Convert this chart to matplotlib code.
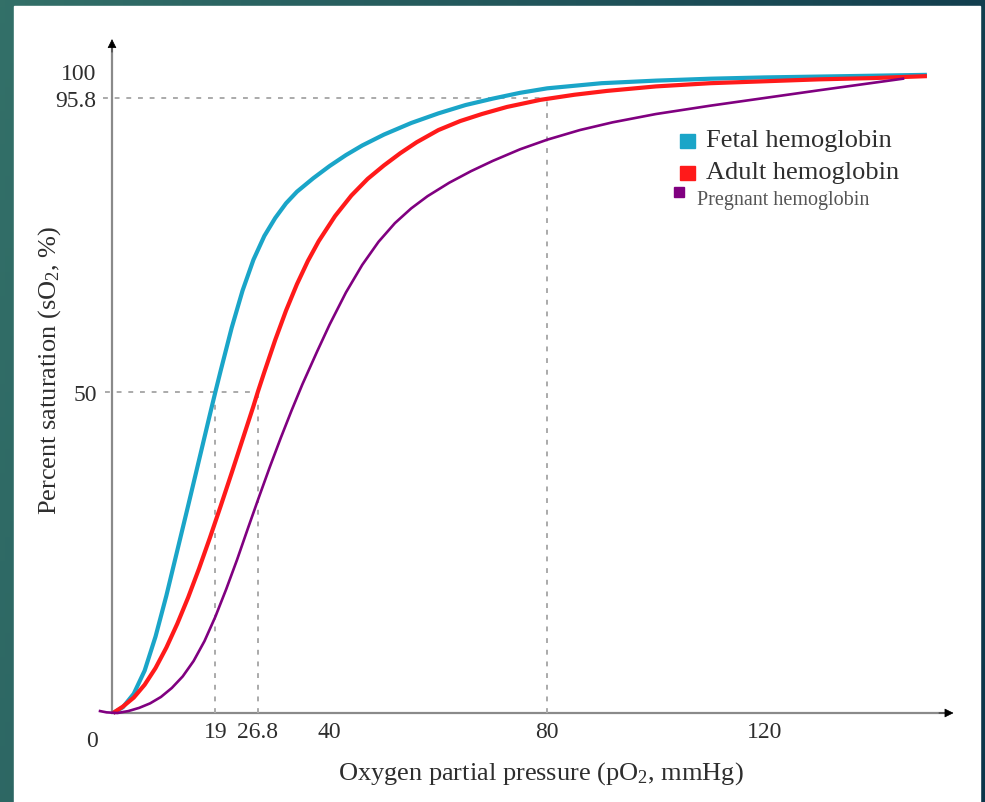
import numpy as np
import matplotlib
matplotlib.use("Agg")
import matplotlib.pyplot as plt
from matplotlib.patches import Rectangle

plt.rcParams['font.family'] = ['Liberation Serif', 'DejaVu Serif']
plt.rcParams['mathtext.fontset'] = 'custom'
plt.rcParams['mathtext.rm'] = 'Liberation Serif'
plt.rcParams['mathtext.it'] = 'Liberation Serif:italic'

# curves: pO2 (mmHg) vs saturation (%)
fetal_po2 = [0.2, 2.0, 4.0, 6.0, 8.0, 10.0, 12.0, 14.0, 16.0, 18.0, 19.0, 20.0,
             22.0, 24.0, 26.0, 28.0, 30.0, 32.0, 34.0, 37.0, 40.0, 43.0, 46.0,
             50.0, 55.0, 60.0, 65.0, 70.0, 75.0, 80.0, 90.0, 100.0, 110.0,
             120.0, 135.0, 149.8]
fetal_sat = [0.0, 0.9, 3.0, 6.6, 11.9, 18.3, 25.3, 32.3, 39.4, 46.5, 50.0, 53.4,
             60.0, 65.8, 70.6, 74.3, 77.1, 79.4, 81.2, 83.3, 85.2, 86.9, 88.4,
             90.1, 91.9, 93.4, 94.7, 95.7, 96.6, 97.3, 98.1, 98.5, 98.8,
             99.0, 99.2, 99.4]

adult_po2 = [0.2, 2.0, 4.0, 6.0, 8.0, 10.0, 12.0, 14.0, 16.0, 18.0, 20.0, 22.0,
             24.0, 26.0, 26.8, 28.0, 30.0, 32.0, 34.0, 36.0, 38.0, 41.0, 44.0,
             47.0, 50.0, 53.0, 56.0, 60.0, 64.0, 68.0, 72.6, 78.7, 85.0, 91.0,
             100.0, 110.0, 120.0, 130.0, 140.0, 149.8]
adult_sat = [0.0, 1.0, 2.4, 4.4, 7.0, 10.2, 13.9, 18.0, 22.5, 27.3, 32.3, 37.4,
             42.6, 47.8, 50.0, 53.1, 58.1, 62.7, 66.8, 70.4, 73.5, 77.4, 80.6,
             83.2, 85.3, 87.2, 88.9, 90.8, 92.2, 93.3, 94.4, 95.5, 96.3, 96.9,
             97.6, 98.1, 98.4, 98.7, 98.9, 99.2]

preg_po2 = [-2.2, -1.0, 1.0, 3.0, 5.0, 7.0, 9.0, 11.0, 13.0, 15.0, 17.0, 19.0,
            21.0, 23.0, 25.0, 27.0, 29.0, 31.0, 33.0, 35.0, 37.7, 40.0, 43.0,
            46.0, 49.0, 52.0, 55.0, 58.0, 62.0, 66.0, 70.0, 75.0, 80.0, 86.0,
            92.0, 100.0, 110.0, 120.0, 130.0, 145.4]
preg_sat = [0.3, 0.1, 0.0, 0.3, 0.8, 1.5, 2.5, 3.9, 5.7, 8.1, 11.2, 15.0,
            19.3, 23.9, 28.8, 33.6, 38.3, 42.8, 47.1, 51.2, 56.3, 60.5, 65.5,
            69.8, 73.4, 76.3, 78.6, 80.5, 82.6, 84.4, 86.0, 87.8, 89.3, 90.8,
            92.0, 93.3, 94.6, 95.8, 97.0, 98.8]

x_ticks = [19, 26.8, 40, 80, 120]
x_tick_labels = ['19', '26.8', '40', '80', '120']
y_ticks = [50, 95.8, 100]
y_tick_labels = ['50', '95.8', '100']

W, H = 985, 803
fig = plt.figure(figsize=(W / 100, H / 100), dpi=100)

# slide background: teal gradient with white panel
bg = fig.add_axes([0, 0, 1, 1])
gx = np.linspace(0, 1, 200)
gy = np.linspace(0, 1, 100)
GX, GY = np.meshgrid(gx, gy)
c_left = np.array([0.20, 0.44, 0.41])
c_right = np.array([0.05, 0.21, 0.29])
t = np.clip(GX * 0.85 + GY * 0.15, 0, 1)[..., None]
img = c_left * (1 - t) + c_right * t
bg.imshow(img, aspect='auto', extent=[0, 1, 0, 1], origin='upper')
bg.add_patch(Rectangle((14 / W, 0), (980 - 14) / W, (H - 7) / H, color='white'))
bg.set_xlim(0, 1)
bg.set_ylim(0, 1)
bg.axis('off')


def fx(px):
    return px / W


def fy(py):
    return 1 - py / H


# main axes: data 0 at px 112 (x), py 714 (y)
xs, ys = 5.44, 6.42
ax = fig.add_axes([fx(112), fy(714), 156 * xs / W, 106 * ys / H])
ax.set_xlim(0, 156)
ax.set_ylim(0, 106)
ax.patch.set_alpha(0)
for s in ax.spines.values():
    s.set_visible(False)

text_col = '#2e2e2e'
ax.set_xticks(x_ticks, x_tick_labels)
ax.set_yticks(y_ticks, y_tick_labels)
ax.tick_params(length=0, labelsize=17, colors=text_col)
ax.tick_params(axis='x', pad=6)
ax.tick_params(axis='y', pad=11)
ax.text(-3.6, -2.6, '0', fontsize=17, color=text_col, ha='center', va='top')

# axes with arrows
axis_col = '#8a8a8a'
ax.plot([0, 0], [0, 104], color=axis_col, lw=1.6, clip_on=False)
ax.plot([0, 154], [0, 0], color=axis_col, lw=1.6, clip_on=False)
ax.annotate('', xy=(0, 105.4), xytext=(0, 102.5),
            arrowprops=dict(arrowstyle='-|>', color='black', lw=0.5,
                            mutation_scale=14), annotation_clip=False)
ax.annotate('', xy=(155.2, 0), xytext=(151.5, 0),
            arrowprops=dict(arrowstyle='-|>', color='black', lw=0.5,
                            mutation_scale=14), annotation_clip=False)

# reference lines
dash = dict(color='#aaaaaa', lw=1.4, dashes=(2.5, 3.5), clip_on=False)
ax.plot([-1.6, 80], [95.8, 95.8], **dash)
ax.plot([80, 80], [0, 95.8], **dash)
ax.plot([-1.3, 26.8], [50, 50], **dash)
ax.plot([19, 19], [0, 50], **dash)
ax.plot([26.8, 26.8], [0, 50], **dash)

ax.plot(fetal_po2, fetal_sat, color='#1aa5c8', lw=3.0, clip_on=False,
        solid_capstyle='butt', solid_joinstyle='round')
ax.plot(adult_po2, adult_sat, color='#ff1a1a', lw=3.0, clip_on=False,
        solid_capstyle='butt', solid_joinstyle='round')
ax.plot(preg_po2, preg_sat, color='#800080', lw=1.9, clip_on=False,
        solid_joinstyle='round')

ax.set_xlabel('Oxygen partial pressure (pO$_2$, mmHg)', fontsize=19, color=text_col)
ax.xaxis.set_label_coords((541 - 112) / (156 * xs), -(760 - 714) / (106 * ys))
ax.set_ylabel('Percent saturation (sO$_2$, %)', fontsize=19, color=text_col)
ax.yaxis.label.set_va('center')
ax.yaxis.set_label_coords((50 - 112) / (156 * xs), (714 - 370) / (106 * ys))

# legend drawn by hand
fig.patches.append(Rectangle((fx(680), fy(149)), 15 / W, 14 / H, color='#1aa5c8',
                             transform=fig.transFigure, figure=fig))
fig.patches.append(Rectangle((fx(680), fy(181)), 15 / W, 14 / H, color='#ff1a1a',
                             transform=fig.transFigure, figure=fig))
fig.patches.append(Rectangle((fx(674), fy(198)), 10 / W, 10 / H, color='#800080',
                             transform=fig.transFigure, figure=fig))
fig.text(fx(706), fy(141), 'Fetal hemoglobin', fontsize=19, color=text_col,
         va='center', ha='left')
fig.text(fx(706), fy(173), 'Adult hemoglobin', fontsize=19, color=text_col,
         va='center', ha='left')
fig.text(fx(697), fy(201), 'Pregnant hemoglobin', fontsize=14.5, color='#555555',
         va='center', ha='left')

fig.savefig('out.png', dpi=100)
